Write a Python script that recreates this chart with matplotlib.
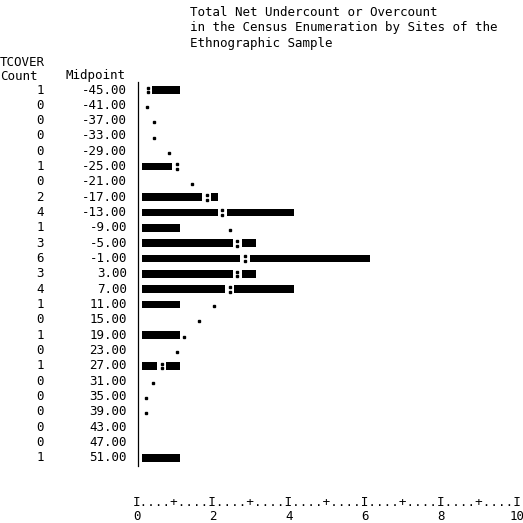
import matplotlib
matplotlib.use("Agg")
import matplotlib.pyplot as plt
from matplotlib.lines import Line2D
from matplotlib import transforms

# histogram of TCOVER (SPSS style line-printer output)
midpoints = [-45, -41, -37, -33, -29, -25, -21, -17, -13, -9, -5, -1,
             3, 7, 11, 15, 19, 23, 27, 31, 35, 39, 43, 47, 51]
counts = [1, 0, 0, 0, 0, 1, 0, 2, 4, 1, 3, 6,
          3, 4, 1, 0, 1, 0, 1, 0, 0, 0, 0, 0, 1]
# normal curve values (read off the . and : marks), None = not shown
normal = [0.15, 0.12, 0.32, 0.32, 0.71, 0.92, 1.31, 1.70, 2.11, 2.31, 2.51, 2.71,
          2.51, 2.31, 1.90, 1.50, 1.11, 0.92, 0.52, 0.30, 0.10, 0.10, None, None, None]
xticks = [0, 2, 4, 6, 8, 10]

title_lines = ["Total Net Undercount or Overcount",
               "in the Census Enumeration by Sites of the",
               "Ethnographic Sample"]

W = 523
fig = plt.figure(figsize=(5.23, 5.23), dpi=100)
mono = "DejaVu Sans Mono"
fs = 9


def fx(x):
    return x / W


def fy(y):
    return 1 - y / W


# axes for the bars: x 0 -> 142px, 1 unit = 38px; rows 15.33px apart
row0 = 90.0
dy = 15.33
n = len(midpoints)
top = row0 - dy / 2
bot = row0 + dy * (n - 0.5)
ax = fig.add_axes([fx(142), fy(bot), 380 / W, (bot - top) / W])
ax.set_xlim(0, 10)
ax.set_ylim(n - 0.5, -0.5)
ax.axis("off")

gap = 0.12
h = 0.5
for i in range(n):
    c = counts[i]
    e = normal[i]
    if e is not None and e < c:
        # bar is split where the normal curve falls inside it
        if e - gap > 0.1:
            ax.barh(i, e - gap, left=0, height=h, color="black")
        if c - (e + gap) > 0.05:
            ax.barh(i, c - (e + gap), left=e + gap, height=h, color="black")
        ax.plot([e, e], [i - 0.15, i + 0.15], "s", color="black", ms=1.8)
    else:
        if c > 0:
            ax.barh(i, c, left=0, height=h, color="black")
        if e is not None:
            ax.plot(e, i + 0.1, "s", color="black", ms=1.8)

# row labels: count and midpoint columns
trans = transforms.blended_transform_factory(fig.transFigure, ax.transData)
for i in range(n):
    ax.text(fx(40), i, str(counts[i]), transform=trans, ha="center", va="center",
            family=mono, fontsize=fs)
    ax.text(fx(127), i, "%.2f" % midpoints[i], transform=trans, ha="right",
            va="center", family=mono, fontsize=fs)

# vertical axis line
fig.add_artist(Line2D([fx(138), fx(138)], [fy(82), fy(466)], color="black", lw=0.9))

# headers
for k, line in enumerate(title_lines):
    fig.text(fx(190), fy(13 + 15 * k), line, ha="left", va="center",
             family=mono, fontsize=fs)
fig.text(fx(0), fy(63), "TCOVER", ha="left", va="center", family=mono, fontsize=fs)
fig.text(fx(0), fy(76), "Count", ha="left", va="center", family=mono, fontsize=fs)
fig.text(fx(66), fy(76), "Midpoint", ha="left", va="center", family=mono, fontsize=fs)

# line-printer x axis
axis_str = "I....+...." * 5 + "I"
fig.text(fx(137 - 3.8), fy(502), axis_str, ha="left", va="center", family=mono, fontsize=9.1)
for t in xticks:
    fig.text(fx(137 + 38 * t), fy(516), str(t), ha="center", va="center",
             family=mono, fontsize=fs)

fig.savefig("out.png", dpi=100)
